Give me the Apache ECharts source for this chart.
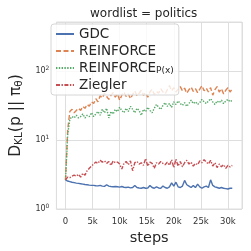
<!DOCTYPE html>
<html><head><meta charset="utf-8">
<script src="https://cdn.jsdelivr.net/npm/echarts@6/dist/echarts.min.js"></script>
<style>html,body{margin:0;padding:0;background:#fff}#c{width:251px;height:251px}</style>
</head><body><div id="c"></div>
<script>
const steps = [0,400,800,1200,1600,2000,2400,2800,3200,3600,4000,4400,4800,5200,5600,6000,6400,6800,7200,7600,8000,8400,8800,9200,9600,10000,10400,10800,11200,11600,12000,12400,12800,13200,13600,14000,14400,14800,15200,15600,16000,16400,16800,17200,17600,18000,18400,18800,19200,19600,20000,20400,20800,21200,21600,22000,22400,22800,23200,23600,24000,24400,24800,25200,25600,26000,26400,26800,27200,27600,28000,28400,28800,29200,29600,30000,30400,30800];
const gdc = [2.65,2.55,2.5,2.45,2.42,2.38,2.36,2.33,2.3,2.27,2.25,2.22,2.2,2.2,2.18,2.17,2.2,2.15,2.13,2.25,2.15,2.12,2.1,2.12,2.1,2.08,2.12,2.07,2.05,2.08,2.03,2.05,2.2,2.05,2.02,2.0,2.05,2.0,2.02,2.2,2.05,2.0,2.1,2.02,2.0,2.15,2.05,2.0,2.1,2.4,2.15,2.45,2.1,2.05,2.15,2.6,2.25,2.15,2.05,2.2,2.05,2.3,2.1,2.0,2.1,2.15,2.05,2.65,2.2,2.1,2.05,2.0,2.05,2.0,1.98,1.95,2.0,2.0];
const reinforce = [2.65,14,26,28,25,27,29,27,31,29,33,31,36,34,40,36,44,41,48,43,39,45,49,42,47,38,45,50,43,47,40,46,52,44,48,53,45,49,42,50,55,46,51,48,56,50,47,54,62,52,58,50,55,60,52,57,48,54,59,51,56,49,55,62,52,57,50,58,45,54,60,50,56,47,53,58,50,56];
const reinforcePx = [2.65,12,20,22,21,23,21,22,24,21,23,22,25,22,24,26,23,28,25,29,21,26,24,28,26,30,27,25,29,26,31,28,25,29,27,23,28,26,30,27,25,29,33,30,28,32,35,31,34,30,36,33,37,34,32,35,31,34,38,34,36,33,35,39,36,34,37,40,36,33,37,35,38,34,37,39,36,38];
const ziegler = [2.65,2.9,2.85,3.0,3.1,3.0,3.2,2.9,3.3,3.1,3.6,3.9,4.2,4.5,4.8,4.6,5.1,4.8,5.0,4.6,4.9,4.3,5.0,4.7,4.8,4.5,3.8,4.6,4.9,4.4,5.0,3.6,4.7,4.9,4.5,4.7,4.3,5.4,4.2,4.8,4.6,3.9,4.7,4.5,4.9,4.6,4.4,4.8,4.3,5.2,4.0,5.3,4.2,4.9,4.1,4.7,5.1,4.5,4.8,4.2,4.6,4.4,5.0,4.7,5.2,4.8,4.5,5.1,4.2,4.7,4.0,4.5,4.1,4.4,3.9,4.3,4.1,4.3];
const seriesNames = ['GDC','REINFORCE','REINFORCE_Px','Ziegler'];
const xTickLabels = {0:'0',5000:'5k',10000:'10k',15000:'15k',20000:'20k',25000:'25k',30000:'30k'};

const font = 'DejaVu Sans';
const pair = arr => steps.map((s,i)=>[s,arr[i]]);
const mk = (name, arr, color, type) => ({
  name, type:'line', data: pair(arr), symbol:'none', showSymbol:false,
  lineStyle:{color, width:1.4, type}, itemStyle:{color}, animation:false
});
const chart = echarts.init(document.getElementById('c'), null, {renderer:'canvas'});
chart.setOption({
  backgroundColor:'#fff',
  animation:false,
  title:{text:'wordlist = politics', left:90, top:8, padding:0,
    textStyle:{fontFamily:font, fontSize:12, fontWeight:'normal', color:'#262626'}},
  grid:{left:48, right:9, top:22, bottom:39, show:true, borderColor:'#dedede', borderWidth:1},
  legend:{
    orient:'vertical', left:51, top:24, itemWidth:18, itemHeight:12, itemGap:3,
    backgroundColor:'rgba(255,255,255,0.8)', borderColor:'#d6d6d6', borderWidth:1, borderRadius:3,
    padding:[3,5,3,4],
    itemStyle:{opacity:0, borderWidth:0},
    data: seriesNames,
    formatter: n => n==='REINFORCE_Px' ? '{m|REINFORCE}{s|P(x)}' : '{m|'+n+'}',
    textStyle:{fontFamily:font, fontSize:13.5, color:'#262626', lineHeight:14,
      rich:{m:{fontFamily:font, fontSize:13.5, color:'#262626', lineHeight:14}, s:{fontFamily:font, fontSize:9, color:'#262626', lineHeight:14, verticalAlign:'bottom', padding:[5,0,0,0]}}}
  },
  xAxis:{type:'value', min:-1680, max:32600, splitNumber:7,
    name:'steps', nameLocation:'middle', nameGap:22,
    nameTextStyle:{fontFamily:font, fontSize:14.5, color:'#262626'},
    axisLine:{show:false}, axisTick:{show:false},
    axisLabel:{fontFamily:font, fontSize:8.5, color:'#333', margin:8,
      formatter: v => xTickLabels[v] !== undefined ? xTickLabels[v] : ''},
    splitLine:{show:true, lineStyle:{color:'#dedede', width:1}}},
  yAxis:{type:'log', logBase:10, min:1, max:520,
    name:'{d|D}{sub|KL}{d|(p || π}{sub|θ}{d|)}', nameLocation:'middle', nameGap:21, nameRotate:90,
    nameTextStyle:{fontFamily:font, fontSize:15.5, color:'#262626',
      rich:{d:{fontFamily:font, fontSize:15.5, color:'#262626'}, sub:{fontFamily:font, fontSize:10.5, color:'#262626', verticalAlign:'bottom', padding:[6,0,0,0]}}},
    axisLine:{show:false}, axisTick:{show:false},
    axisLabel:{fontFamily:font, fontSize:8, color:'#333', margin:7,
      formatter: v => { const e = Math.round(Math.log10(v)); return Math.abs(Math.pow(10,e)-v) < 1e-6*v ? '{b|10}{sup|'+e+'}' : ''; },
      rich:{b:{fontFamily:font, fontSize:8, color:'#333'}, sup:{fontFamily:font, fontSize:6, color:'#333', verticalAlign:'top', padding:[0,0,5,0]}}},
    splitLine:{show:true, lineStyle:{color:'#dedede', width:1}}},
  series:[
    mk('GDC', gdc, '#4C72B0', 'solid'),
    mk('REINFORCE', reinforce, '#DD8452', [5,2.5]),
    mk('REINFORCE_Px', reinforcePx, '#55A868', [1.4,1.4]),
    mk('Ziegler', ziegler, '#C44E52', [4,1.5,1.4,1.5])
  ]
});
</script></body></html>
